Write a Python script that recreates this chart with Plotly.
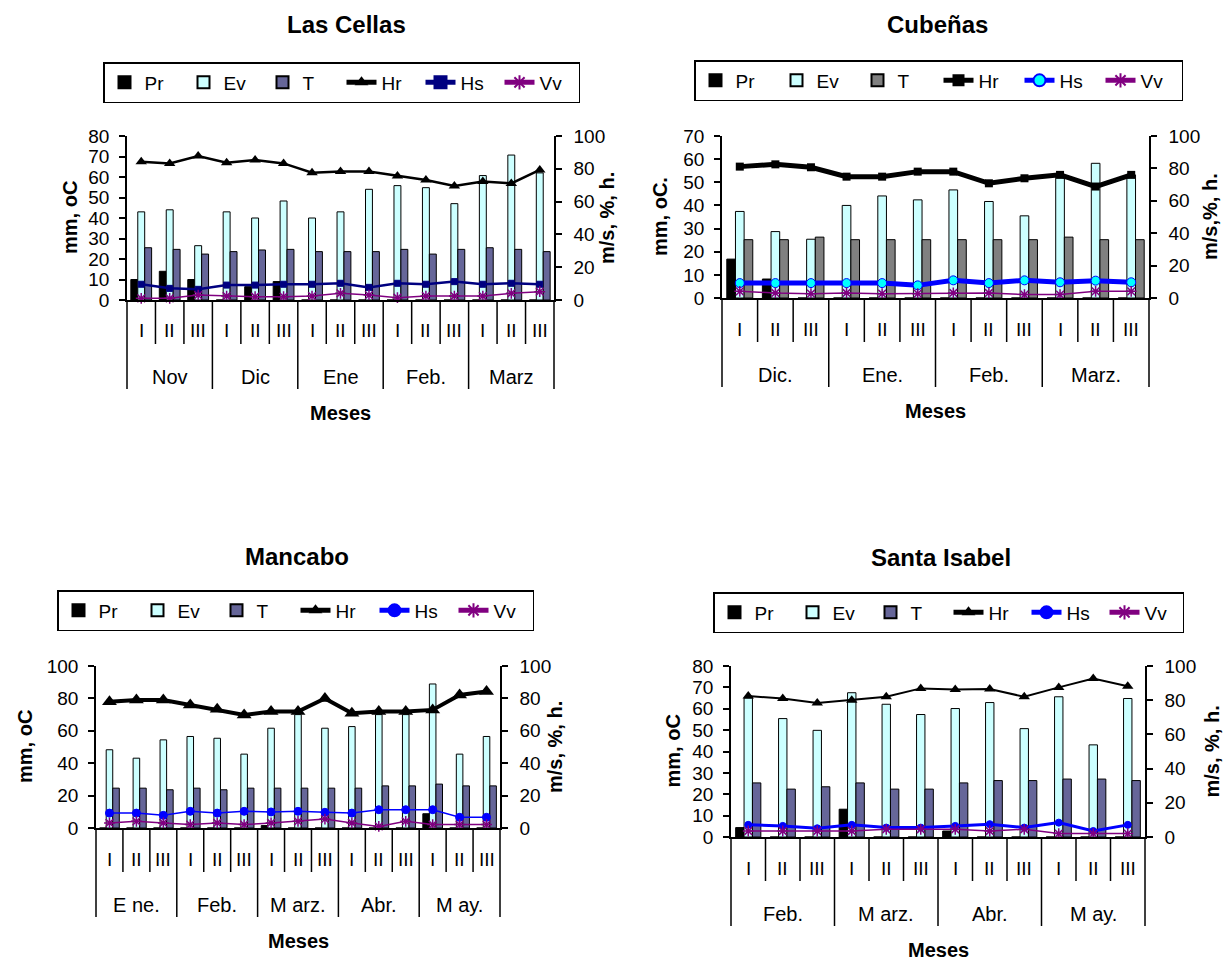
import plotly.graph_objects as go

W, H = 1228, 960
FONT = "Liberation Sans, Arial, sans-serif"

decades = ["I", "II", "III"]

# ---------------- Las Cellas ----------------
lc_months = ["Nov", "Dic", "Ene", "Feb.", "Marz"]
lc_pr = [10, 14, 10, 0, 6.5, 9, 0, 0, 0, 0, 0, 0, 0, 0, 0]
lc_ev = [43, 44, 26.5, 43, 40, 48.3, 40, 43, 54, 55.8, 54.8, 47, 60.7, 70.7, 62]
lc_t = [25.5, 24.7, 22.4, 23.6, 24.4, 24.7, 23.6, 23.6, 23.6, 24.7, 22.4, 24.7, 25.5, 24.7, 23.6]
lc_hr = [84.3, 83.3, 87.8, 83.7, 85.4, 83.3, 77.6, 78.3, 78.3, 75.6, 73.2, 69.5, 72.2, 71.1, 79.3]
lc_hs = [9.6, 7.1, 6.5, 9.1, 9.1, 9.6, 9.6, 10.2, 7.7, 10.2, 9.6, 11.2, 9.6, 10.2, 9.6]
lc_vv = [1.0, 1.0, 3.0, 2.4, 2.0, 2.0, 2.4, 4.1, 3.0, 1.4, 2.4, 2.4, 2.4, 4.1, 5.1]

# ---------------- Cubeñas ----------------
cu_months = ["Dic.", "Ene.", "Feb.", "Marz."]
cu_pr = [16.8, 8.2, 0, 0, 0, 0, 0, 0, 0, 0, 0, 0]
cu_ev = [37.4, 28.7, 25.4, 40, 44.1, 42.4, 46.7, 41.7, 35.5, 52.5, 58.2, 53.2]
cu_t = [25.2, 25.2, 26.3, 25.2, 25.2, 25.2, 25.2, 25.2, 25.2, 26.3, 25.2, 25.2]
cu_hr = [81.1, 82.5, 80.7, 74.9, 74.9, 78, 78, 70.8, 73.9, 76, 68.8, 76]
cu_hs = [9.2, 9.2, 9.2, 9.2, 9.2, 7.8, 10.9, 9.2, 10.9, 9.7, 10.7, 9.7]
cu_vv = [4.1, 3.1, 2.7, 3.1, 2.7, 2.7, 3.1, 3.1, 2.1, 2.1, 4.1, 4.1]

# ---------------- Mancabo ----------------
ma_months = ["E ne.", "Feb.", "M arz.", "Abr.", "M ay."]
ma_pr = [0, 0, 0, 0, 0, 0, 1.5, 0, 0, 0, 0, 0, 8.8, 0, 0]
ma_ev = [48.3, 43.1, 54.4, 56.5, 55.4, 45.6, 61.6, 70, 61.6, 62.6, 70, 70, 88.9, 45.6, 56.5]
ma_t = [24.6, 24.6, 23.6, 24.6, 23.6, 24.6, 24.6, 24.6, 24.6, 24.6, 26, 26, 27.1, 26, 26]
ma_hr = [78, 79, 79, 76, 73.3, 69.8, 71.9, 71.9, 80, 70.8, 71.9, 71.9, 72.9, 82.1, 84.2]
ma_hs = [9.2, 9.2, 7.8, 10.3, 9.2, 10.3, 9.9, 10.3, 9.7, 9.2, 11.3, 11.3, 11.3, 6.6, 6.6]
ma_vv = [3.1, 4.1, 3.1, 2.1, 3.1, 2.1, 3.1, 4.1, 5.5, 3.1, 1.0, 4.1, 2.1, 2.1, 2.1]

# ---------------- Santa Isabel ----------------
si_months = ["Feb.", "M arz.", "Abr.", "M ay."]
si_pr = [4.4, 0, 0, 13, 0, 0, 2.8, 0, 0, 0, 0, 0]
si_ev = [65, 55.4, 49.9, 67.5, 62.1, 57.3, 60.1, 62.9, 50.7, 65.6, 43.1, 64.8]
si_t = [25.3, 22.4, 23.5, 25.3, 22.4, 22.4, 25.3, 26.4, 26.4, 27.1, 27.1, 26.4]
si_hr = [82.4, 81, 78.4, 80, 82, 86.9, 86.3, 86.5, 82, 87.5, 92.7, 88.2]
si_hs = [7.1, 6.5, 5.1, 7.1, 5.5, 5.5, 6.5, 7.5, 5.5, 8.4, 3.5, 7.1]
si_vv = [3.5, 3.5, 3.5, 3.5, 4.5, 4.5, 4.5, 3.5, 4.5, 2, 2, 2]

panels = [
    dict(title="Las Cellas", months=lc_months, pr=lc_pr, ev=lc_ev, t=lc_t, hr=lc_hr, hs=lc_hs, vv=lc_vv,
         box=(127, 554, 136, 300), lmax=80, ldt=10, ltitle="mm, oC", rtitle="m/s, %, h.",
         title_pos=(346, 25), ltitle_x=70, rtitle_x=607, legend=(103, 62), ew=34,
         t_color="#666699", hr_w=2.5, hr_sym="triangle-up", hr_size=10,
         hs_color="#000080", hs_w=2.5, hs_sym="square", hs_size=6, hs_fill="#000080"),
    dict(title="Cubeñas", months=cu_months, pr=cu_pr, ev=cu_ev, t=cu_t, hr=cu_hr, hs=cu_hs, vv=cu_vv,
         box=(722, 1149, 136, 298), lmax=70, ldt=10, ltitle="mm, oC.", rtitle="m/s,%, h.",
         title_pos=(937, 25), ltitle_x=660, rtitle_x=1210, legend=(694, 60), ew=36,
         t_color="#808080", hr_w=5, hr_sym="square", hr_size=8,
         hs_color="#0000FF", hs_w=5, hs_sym="circle", hs_size=9, hs_fill="#00FFFF"),
    dict(title="Mancabo", months=ma_months, pr=ma_pr, ev=ma_ev, t=ma_t, hr=ma_hr, hs=ma_hs, vv=ma_vv,
         box=(96, 500, 666, 828), lmax=100, ldt=20, ltitle="mm, oC", rtitle="m/s, %, h.",
         title_pos=(297, 556), ltitle_x=25, rtitle_x=555, legend=(57, 590), ew=34,
         t_color="#666699", hr_w=4, hr_sym="triangle-up", hr_size=13,
         hs_color="#0000FF", hs_w=1.5, hs_sym="circle", hs_size=8, hs_fill="#0000FF"),
    dict(title="Santa Isabel", months=si_months, pr=si_pr, ev=si_ev, t=si_t, hr=si_hr, hs=si_hs, vv=si_vv,
         box=(731, 1145, 666, 837), lmax=80, ldt=10, ltitle="mm, oC", rtitle="m/s, %, h.",
         title_pos=(941, 557), ltitle_x=672, rtitle_x=1211, legend=(713, 592), ew=33,
         t_color="#666699", hr_w=2, hr_sym="triangle-up", hr_size=10,
         hs_color="#0000FF", hs_w=3, hs_sym="circle", hs_size=7, hs_fill="#0000FF"),
]


def fx(px):
    return px / W


def fy(py):
    return 1 - py / H


fig = go.Figure()
layout = dict(
    width=W, height=H, margin=dict(l=0, r=0, t=0, b=0, autoexpand=False),
    paper_bgcolor="white", plot_bgcolor="white",
    barmode="group", bargap=0.27, bargroupgap=0,
    font=dict(family=FONT, size=19, color="black"),
    showlegend=True,
)
annotations = []
shapes = []

for k, p in enumerate(panels):
    xid = "x" if k == 0 else f"x{k+1}"
    xkey = "xaxis" if k == 0 else f"xaxis{k+1}"
    ya, yb, yc, yd = 4 * k + 1, 4 * k + 2, 4 * k + 3, 4 * k + 4
    yaid = "y" if ya == 1 else f"y{ya}"
    yakey = "yaxis" if ya == 1 else f"yaxis{ya}"
    lid = "legend" if k == 0 else f"legend{k+1}"
    x0p, x1p, ytop, ybot = p["box"]
    n = len(p["months"]) * 3
    xs = list(range(n))
    dom_x = [fx(x0p), fx(x1p)]
    dom_y = [fy(ybot), fy(ytop)]

    layout[xkey] = dict(domain=dom_x, anchor=yaid, range=[-0.5, n - 0.5], showticklabels=False,
                        showline=True, linecolor="black", linewidth=1.5, ticks="", showgrid=False,
                        zeroline=False, fixedrange=True)
    layout[yakey] = dict(domain=dom_y, anchor=xid, range=[0, p["lmax"]], dtick=p["ldt"],
                         showline=True, linecolor="black", linewidth=1.5, ticks="outside", ticklen=6,
                         tickwidth=1.5, tickcolor="black", showgrid=False, zeroline=False,
                         ticklabelstandoff=6, tickfont=dict(size=19))
    layout[f"yaxis{yb}"] = dict(overlaying=yaid, side="right", anchor=xid, range=[0, 100], dtick=20,
                                showline=True, linecolor="black", linewidth=1.5, ticks="outside",
                                ticklen=6, tickwidth=1.5, tickcolor="black", showgrid=False,
                                zeroline=False, ticklabelstandoff=8, tickfont=dict(size=19))
    layout[f"yaxis{yc}"] = dict(overlaying=yaid, side="left", anchor=xid, range=[0, p["lmax"]],
                                dtick=p["ldt"], showline=False, ticks="inside", ticklen=6, tickwidth=1.5,
                                tickcolor="black", showticklabels=False, showgrid=False, zeroline=False)
    layout[f"yaxis{yd}"] = dict(overlaying=yaid, side="right", anchor=xid, range=[0, 100], dtick=20,
                                showline=False, ticks="inside", ticklen=6, tickwidth=1.5,
                                tickcolor="black", showticklabels=False, showgrid=False, zeroline=False)

    lx, ly = p["legend"]
    layout[lid] = dict(orientation="h", x=fx(lx), y=fy(ly), xanchor="left", yanchor="top",
                       bordercolor="black", borderwidth=1.5, bgcolor="white",
                       font=dict(size=19, family=FONT), entrywidth=p["ew"], entrywidthmode="pixels",
                       traceorder="normal", itemsizing="constant")

    common = dict(xaxis=xid, legend=lid)
    fig.add_trace(go.Bar(x=xs, y=p["pr"], name="Pr", yaxis=yaid, marker=dict(color="black",
                         line=dict(color="black", width=1)), **common))
    fig.add_trace(go.Bar(x=xs, y=p["ev"], name="Ev", yaxis=yaid, marker=dict(color="#CCFFFF",
                         line=dict(color="black", width=1)), **common))
    fig.add_trace(go.Bar(x=xs, y=p["t"], name="T", yaxis=yaid, marker=dict(color=p["t_color"],
                         line=dict(color="black", width=1)), **common))
    fig.add_trace(go.Scatter(x=xs, y=p["hr"], name="Hr", yaxis=f"y{yb}", mode="lines+markers",
                             line=dict(color="black", width=p["hr_w"]),
                             marker=dict(symbol=p["hr_sym"], size=p["hr_size"], color="black"),
                             cliponaxis=False, **common))
    fig.add_trace(go.Scatter(x=xs, y=p["hs"], name="Hs", yaxis=f"y{yb}", mode="lines+markers",
                             line=dict(color=p["hs_color"], width=p["hs_w"]),
                             marker=dict(symbol=p["hs_sym"], size=p["hs_size"], color=p["hs_fill"],
                                         line=dict(color=p["hs_color"], width=1)),
                             cliponaxis=False, **common))
    fig.add_trace(go.Scatter(x=xs, y=p["vv"], name="Vv", yaxis=f"y{yb}", mode="lines+markers",
                             line=dict(color="#800080", width=1.5),
                             marker=dict(symbol="asterisk-open", size=9,
                                         line=dict(color="#800080", width=1.5)),
                             cliponaxis=False, **common))

    # category axis decorations
    def bx(b):
        return fx(x0p + (x1p - x0p) * b / n)

    for b in range(n + 1):
        long_ = (b % 3 == 0)
        shapes.append(dict(type="line", xref="paper", yref="paper", x0=bx(b), x1=bx(b),
                           y0=fy(ybot), y1=fy(ybot + (89 if long_ else 44)),
                           line=dict(color="black", width=1.5)))
    for i in range(n):
        annotations.append(dict(text=decades[i % 3], xref=xid, yref="paper", x=i, y=fy(ybot + 31),
                                showarrow=False, xanchor="center", yanchor="middle",
                                font=dict(size=19, family=FONT)))
    for m, name in enumerate(p["months"]):
        annotations.append(dict(text=name, xref=xid, yref="paper", x=3 * m + 1, y=fy(ybot + 77),
                                showarrow=False, xanchor="center", yanchor="middle",
                                font=dict(size=20, family=FONT)))
    cx = (x0p + x1p) / 2
    annotations.append(dict(text="<b>Meses</b>", xref="paper", yref="paper", x=fx(cx),
                            y=fy(ybot + 113), showarrow=False, xanchor="center", yanchor="middle",
                            font=dict(size=20, family=FONT)))
    tx, ty = p["title_pos"]
    annotations.append(dict(text=f"<b>{p['title']}</b>", xref="paper", yref="paper", x=fx(tx), y=fy(ty),
                            showarrow=False, xanchor="center", yanchor="middle",
                            font=dict(size=24, family=FONT)))
    cy = (ytop + ybot) / 2
    annotations.append(dict(text=f"<b>{p['ltitle']}</b>", xref="paper", yref="paper", x=fx(p["ltitle_x"]),
                            y=fy(cy), showarrow=False, textangle=-90, xanchor="center", yanchor="middle",
                            font=dict(size=20, family=FONT)))
    annotations.append(dict(text=f"<b>{p['rtitle']}</b>", xref="paper", yref="paper", x=fx(p["rtitle_x"]),
                            y=fy(cy), showarrow=False, textangle=-90, xanchor="center", yanchor="middle",
                            font=dict(size=20, family=FONT)))

layout["annotations"] = annotations
layout["shapes"] = shapes
fig.update_layout(**layout)
fig.write_html("out.html", config={"displayModeBar": False},
               post_script="document.body.style.margin='0';document.body.style.overflow='hidden';")
